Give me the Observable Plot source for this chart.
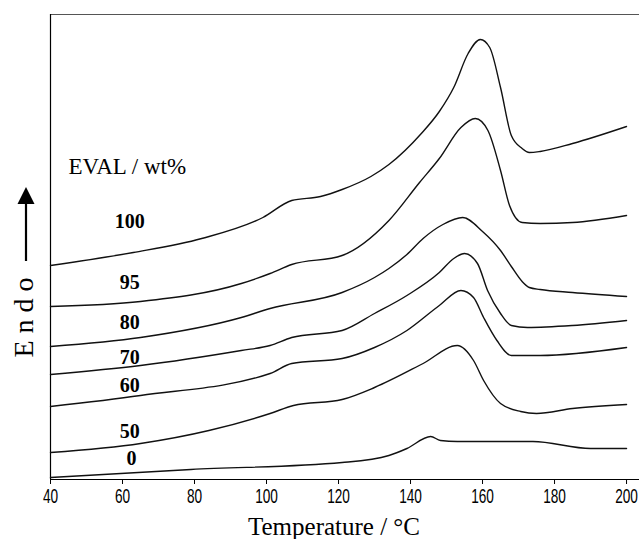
<!DOCTYPE html>
<html><head><meta charset="utf-8">
<script src="https://cdn.jsdelivr.net/npm/d3@7"></script>
<script src="https://cdn.jsdelivr.net/npm/@observablehq/plot@0.6"></script>
<style>
body{margin:0;background:#fff;}
#chart svg{display:block;}
#chart g[aria-label="x-axis tick label"] text{font-family:"Liberation Sans","Arial",sans-serif;font-size:19.5px;}
</style></head><body><div id="chart"></div>
<script>
// x-axis ticks (°C)
const xTicks = [40, 60, 80, 100, 120, 140, 160, 180, 200];
const xLabel = "Temperature / °C";
const yLabel = "Endo";
const legendTitle = "EVAL / wt%";

// series names (EVAL wt%)
const series = ["100", "95", "80", "70", "60", "50", "0"];

// DSC curves: temperature (°C) and heat flow (arbitrary units, endo up, offset)
const T100 = [40, 63, 82, 99, 107, 115, 121, 129, 134, 143, 148, 152, 156, 159.4, 162, 165, 168, 171, 173, 176, 185, 200];
const V100 = [213, 226, 240, 261, 278, 282, 289, 302, 314, 345, 367, 391, 425, 439, 431, 391, 343, 330, 326, 327, 335, 352];

const T95 = [40, 65, 93, 101, 107, 121, 134, 142.5, 148, 154, 158, 161.5, 165, 167.5, 171, 176, 185, 200];
const V95 = [172, 177, 195, 205, 214, 223, 258, 296, 320, 351, 360, 348, 308, 273, 256, 255, 256, 263];

const T80 = [40, 65, 93, 101, 121, 130, 134, 139, 143.5, 149, 154.5, 160, 165, 168, 171, 173, 176, 185, 200];
const V80 = [132, 141, 161, 170, 186, 201, 210, 224, 240, 254, 261, 247, 228, 212, 197, 191, 189, 186, 182];

const T70 = [40, 65, 93, 101, 107, 121, 130, 139, 148, 152, 155, 158.6, 161.4, 165, 168, 172.5, 185, 200];
const V70 = [104, 113, 128, 133, 141, 148, 165, 183, 206, 220, 225, 215, 188, 165, 153, 151, 153, 158];

const T60 = [40, 65, 101, 107, 121, 130, 139, 148, 154, 157.5, 160.3, 164, 168, 176, 200];
const V60 = [72, 83, 105, 115, 120, 131, 148, 173, 188, 181, 161, 138, 123, 123, 131];

const T50 = [40, 65, 84, 101, 107.5, 121, 130, 143.5, 153, 157.5, 160.3, 165, 170.6, 175, 185, 200];
const V50 = [26, 35, 48, 65, 73, 79, 91, 115, 133, 118, 98, 75, 67, 65, 70, 74];

const T0 = [40, 79, 121, 134, 139, 145.6, 148.3, 153, 174, 190, 200];
const V0 = [1, 9, 16, 23, 30, 42, 38, 37, 37, 30, 30];

// curve label anchors (data units)
const labelT = [62, 62, 62, 62, 62, 62, 62.5];
const labelV = [257, 196, 156, 121, 93, 47, 20];
const legendT = 45, legendV = 312;

const Ts = [T100, T95, T80, T70, T60, T50, T0];
const Vs = [V100, V95, V80, V70, V60, V50, V0];
const rows = [];
series.forEach((s, i) => Ts[i].forEach((t, j) => rows.push({s, T: t, v: Vs[i][j]})));
const labels = series.map((s, i) => ({s, T: labelT[i], v: labelV[i]}));

const xDomain = [40, 203.6];
const yDomain = [-1, 464];
const serif = "'Liberation Serif','Times New Roman',serif";

const plot = Plot.plot({
  width: 639, height: 539,
  marginLeft: 50, marginRight: 0, marginTop: 14, marginBottom: 60,
  style: {background: "#fff", color: "#000", fontFamily: serif},
  x: {domain: xDomain, ticks: xTicks, tickFormat: d => String(d), tickSize: 5, tickPadding: 5, label: null},
  y: {domain: yDomain, axis: null},
  marks: [
    Plot.ruleY([yDomain[1]], {stroke: "#555", strokeWidth: 1.2}),
    Plot.ruleY([yDomain[0]], {stroke: "#000", strokeWidth: 1.2}),
    Plot.ruleX([xDomain[0]], {stroke: "#000", strokeWidth: 1.2}),
    Plot.line(rows, {x: "T", y: "v", z: "s", stroke: "#111", strokeWidth: 1.4, curve: "monotone-x"}),
    Plot.text(labels, {x: "T", y: "v", text: "s", fontWeight: "bold", fontSize: 20, fontFamily: serif, fill: "#000"}),
    Plot.text([legendTitle], {x: legendT, y: legendV, text: d => d, textAnchor: "start", fontSize: 23, fontFamily: serif, fill: "#000"})
  ]
});
document.getElementById("chart").appendChild(plot);

const svg = d3.select(plot);
// condense tick labels horizontally (narrow sans look)
svg.selectAll('g[aria-label="x-axis tick label"] text').each(function () {
  const t = this.getAttribute("transform") || "";
  this.setAttribute("transform", t + " scale(0.7,1)");
});

const xs = plot.scale("x");
svg.append("text")
  .attr("x", (xs.apply(40) + xs.apply(200)) / 2 - 4)
  .attr("y", 535)
  .attr("text-anchor", "middle")
  .attr("font-family", serif)
  .attr("font-size", 25)
  .attr("fill", "#000")
  .text(xLabel);

svg.append("text")
  .attr("transform", "translate(33,314) rotate(-90)")
  .attr("text-anchor", "middle")
  .attr("font-family", serif)
  .attr("font-size", 28)
  .attr("letter-spacing", 7)
  .attr("fill", "#000")
  .text(yLabel);

svg.append("line").attr("x1", 26).attr("x2", 26).attr("y1", 261).attr("y2", 200)
  .attr("stroke", "#000").attr("stroke-width", 2.2);
svg.append("path").attr("d", "M26,187 L17.5,204 L34.5,204 Z").attr("fill", "#000");
</script></body></html>
